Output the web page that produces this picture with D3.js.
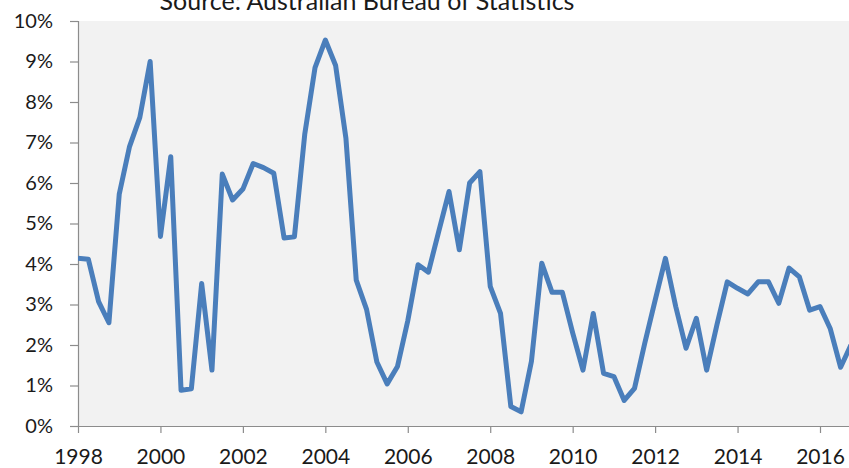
<!DOCTYPE html>
<html>
<head>
<meta charset="utf-8">
<script src="https://cdn.jsdelivr.net/npm/d3@7"></script>
<style>
	html, body { margin: 0; padding: 0; background: #fff; overflow: hidden; }
	text { font-family: Lato, "Noto Sans", sans-serif; fill: #1a1a1a; }
</style>
</head>
<body>
<script>
'use strict';

const params = {
	width: 849,
	height: 468,
	left: 78,
	top: 21,
	bottom: 426
};

const title = "Source: Australian Bureau of Statistics";

// quarterly values, 1998 Q1 onwards (percent)
const startYear = 1998;
const values = [
	4.14, 4.12, 3.07, 2.55, 5.72, 6.9, 7.62, 9.0,
	4.68, 6.65, 0.88, 0.92, 3.52, 1.38, 6.22, 5.58,
	5.85, 6.48, 6.38, 6.24, 4.64, 4.67, 7.2, 8.85,
	9.53, 8.9, 7.1, 3.6, 2.88, 1.58, 1.04, 1.47,
	2.6, 3.98, 3.8, 4.8, 5.79, 4.35, 6.0, 6.28,
	3.45, 2.78, 0.48, 0.35, 1.6, 4.02, 3.3, 3.3,
	2.3, 1.38, 2.78, 1.3, 1.22, 0.63, 0.93, 2.05,
	3.1, 4.14, 2.95, 1.92, 2.66, 1.38, 2.5, 3.56,
	3.4, 3.26, 3.56, 3.56, 3.03, 3.9, 3.68, 2.86,
	2.95, 2.4, 1.45, 2.0
];
const xTicks = [1998, 2000, 2002, 2004, 2006, 2008, 2010, 2012, 2014, 2016];
const yTicks = [0, 1, 2, 3, 4, 5, 6, 7, 8, 9, 10];

const data = values.map((v, i) => ({ t: startYear + i / 4, v: v }));

const svg = d3.select("body").append("svg")
	.attr("width", params.width)
	.attr("height", params.height);

const xScale = d3.scaleLinear()
	.domain([1998, 2016])
	.range([params.left, 820]);

const yScale = d3.scaleLinear()
	.domain([0, 10])
	.range([params.bottom, params.top]);

// plot background
svg.append("rect")
	.attr("x", params.left)
	.attr("y", params.top)
	.attr("width", params.width - params.left)
	.attr("height", params.bottom - params.top)
	.attr("fill", "#f2f2f2");

svg.append("text")
	.attr("x", 367)
	.attr("y", 10)
	.attr("text-anchor", "middle")
	.style("font-size", "25px")
	.text(title);

// axes
const yAxis = svg.append("g")
	.attr("transform", `translate(${params.left},0)`)
	.call(d3.axisLeft(yScale).tickValues(yTicks).tickSize(8).tickPadding(17)
		.tickFormat(d => d + "%"));

const xAxis = svg.append("g")
	.attr("transform", `translate(0,${params.bottom})`)
	.call(d3.axisBottom(xScale).tickValues(xTicks).tickSize(7).tickPadding(16)
		.tickFormat(d3.format("d")));

xAxis.select(".domain").attr("d", `M${params.left - 8},0.5H${params.width}`);

[yAxis, xAxis].forEach(g => {
	g.selectAll(".domain, line").attr("stroke", "#8c8c8c").attr("stroke-width", 1.2);
	g.selectAll("text").style("font-size", "20px").attr("fill", "#1a1a1a");
});
xAxis.selectAll("text").style("font-size", "21px");
yAxis.select(".domain").attr("d", `M0.5,${params.bottom}V${params.top}`);

svg.append("clipPath").attr("id", "clip")
	.append("rect")
	.attr("x", params.left)
	.attr("y", 0)
	.attr("width", params.width - params.left)
	.attr("height", params.bottom);

const line = d3.line()
	.x(d => xScale(d.t))
	.y(d => yScale(d.v));

svg.append("path")
	.datum(data)
	.attr("clip-path", "url(#clip)")
	.attr("fill", "none")
	.attr("stroke", "#4a7ebb")
	.attr("stroke-width", 5)
	.attr("stroke-linejoin", "round")
	.attr("d", line);
</script>
</body>
</html>
